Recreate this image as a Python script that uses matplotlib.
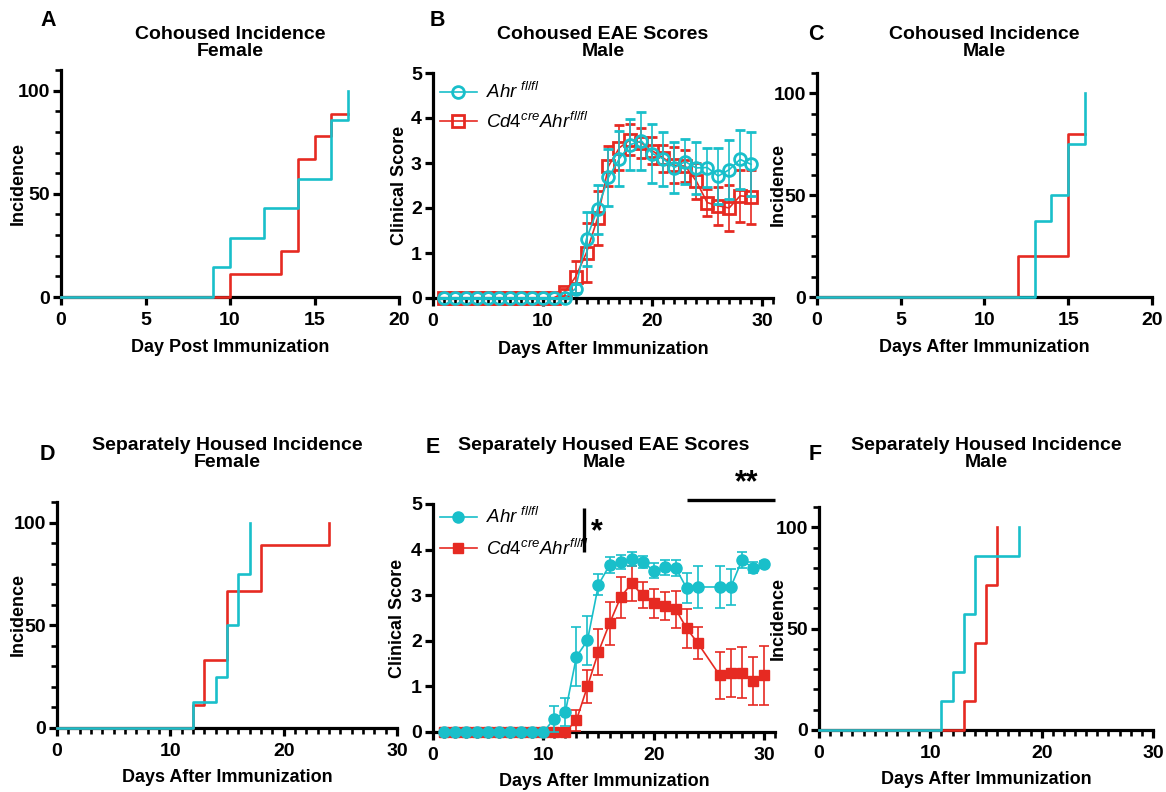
import matplotlib
matplotlib.use("Agg")
import matplotlib.pyplot as plt
from matplotlib.lines import Line2D
from matplotlib.ticker import MultipleLocator, NullLocator

plt.rcParams['font.family'] = ['Liberation Sans', 'DejaVu Sans']
plt.rcParams['font.weight'] = 'bold'
plt.rcParams['mathtext.fontset'] = 'custom'
plt.rcParams['mathtext.it'] = 'Liberation Sans:italic:normal'
plt.rcParams['mathtext.rm'] = 'Liberation Sans:normal'
plt.rcParams['mathtext.bf'] = 'Liberation Sans:bold'

CYAN = '#19BFCA'
RED = '#E62A22'

# ---- Incidence curves (day of onset, cumulative incidence %) ----
coh_f_wt_days = [0, 9, 10, 12, 14, 16, 17]
coh_f_wt_inc = [0, 14.3, 28.6, 42.9, 57.1, 85.7, 100]
coh_f_ko_days = [0, 10, 13, 14, 15, 16, 17]
coh_f_ko_inc = [0, 11.1, 22.2, 66.7, 77.8, 88.9, 88.9]

coh_m_wt_days = [0, 13, 14, 15, 16]
coh_m_wt_inc = [0, 37.5, 50, 75, 100]
coh_m_ko_days = [0, 12, 15, 16]
coh_m_ko_inc = [0, 20, 80, 80]

sep_f_wt_days = [0, 12, 14, 15, 16, 17]
sep_f_wt_inc = [0, 12.5, 25, 50, 75, 100]
sep_f_ko_days = [0, 12, 13, 15, 18, 24]
sep_f_ko_inc = [0, 11.1, 33.3, 66.7, 88.9, 100]

sep_m_wt_days = [0, 11, 12, 13, 14, 18]
sep_m_wt_inc = [0, 14.3, 28.6, 57.1, 85.7, 100]
sep_m_ko_days = [0, 13, 14, 15, 16]
sep_m_ko_inc = [0, 14.3, 42.9, 71.4, 100]

# ---- Cohoused EAE scores, male (mean, SEM) ----
coh_days = list(range(1, 30))
coh_wt_mean = [0]*12 + [0.21, 1.32, 1.97, 2.68, 3.10, 3.41, 3.49, 3.21, 3.09, 2.90,
                        3.03, 2.89, 2.90, 2.71, 2.85, 3.08, 2.97]
coh_wt_sem = [0]*12 + [0.10, 0.60, 0.55, 0.63, 0.62, 0.56, 0.64, 0.66, 0.60, 0.57,
                       0.50, 0.58, 0.43, 0.62, 0.66, 0.65, 0.71]
coh_ko_mean = [0]*11 + [0.13, 0.47, 1.01, 1.77, 2.93, 3.34, 3.52, 3.45, 3.27, 3.11,
                        2.95, 2.93, 2.60, 2.12, 2.05, 2.00, 2.27, 2.25]
coh_ko_sem = [0]*11 + [0.08, 0.35, 0.65, 0.60, 0.45, 0.50, 0.35, 0.33, 0.30, 0.30,
                       0.40, 0.35, 0.40, 0.30, 0.42, 0.52, 0.57, 0.60]

# ---- Separately housed EAE scores, male (mean, SEM); no scoring on day 25 ----
sep_days = list(range(1, 25)) + list(range(26, 31))
sep_wt_mean = [0]*10 + [0.29, 0.44, 1.65, 2.01, 3.23, 3.66, 3.73, 3.79, 3.73, 3.54,
                        3.61, 3.60, 3.15, 3.18, 3.18, 3.18, 3.77, 3.60, 3.68]
sep_wt_sem = [0]*10 + [0.28, 0.30, 0.65, 0.54, 0.23, 0.17, 0.15, 0.16, 0.14, 0.17,
                       0.17, 0.18, 0.33, 0.46, 0.46, 0.40, 0.17, 0.12, 0.08]
sep_ko_mean = [0]*12 + [0.26, 1.00, 1.76, 2.38, 2.95, 3.26, 3.00, 2.82, 2.76, 2.69,
                        2.27, 1.95, 1.24, 1.30, 1.30, 1.12, 1.24]
sep_ko_sem = [0]*12 + [0.23, 0.37, 0.50, 0.47, 0.44, 0.38, 0.28, 0.32, 0.31, 0.40,
                       0.42, 0.35, 0.51, 0.53, 0.56, 0.52, 0.64]

LBL_WT = r'$\mathit{Ahr}^{\ \mathit{fl/fl}}$'
LBL_KO = r'$\mathit{Cd4}^{\mathit{cre}}\mathit{Ahr}^{\mathit{fl/fl}}$'

W, H = 1166, 792
fig = plt.figure(figsize=(W/100, H/100), dpi=100)


def px_axes(left, right, top, bottom):
    ax = fig.add_axes([left/W, 1 - bottom/H, (right-left)/W, (bottom-top)/H])
    ax._px = (left, right, top, bottom)
    return ax


def place_labels(ax, ylabel_x, xlabel_y, title, title_y):
    left, right, top, bottom = ax._px
    ax.yaxis.set_label_coords((ylabel_x - left)/(right - left), 0.5)
    ax.xaxis.set_label_coords(0.5, -(xlabel_y - bottom)/(bottom - top))
    fig.text((left + right)/2/W, 1 - title_y/H, title, fontsize=14, fontweight='bold',
             ha='center', va='center', linespacing=0.98)


def style(ax, xmax, xmajor, xminor, ymax, ymajor, yminor):
    for s in ('top', 'right'):
        ax.spines[s].set_visible(False)
    for s in ('left', 'bottom'):
        ax.spines[s].set_linewidth(2.3)
        ax.spines[s].set_capstyle('projecting')
    ax.set_xlim(0, xmax)
    ax.set_ylim(0, ymax)
    ax.xaxis.set_major_locator(MultipleLocator(xmajor))
    ax.yaxis.set_major_locator(MultipleLocator(ymajor))
    ax.xaxis.set_minor_locator(MultipleLocator(xminor) if xminor else NullLocator())
    ax.yaxis.set_minor_locator(MultipleLocator(yminor) if yminor else NullLocator())
    ax.tick_params(which='major', length=6, width=2.3, labelsize=14)
    ax.tick_params(axis='x', which='major', pad=5)
    ax.tick_params(axis='y', which='major', pad=2)
    ax.tick_params(which='minor', length=4, width=1.9)
    for t in ax.get_xticklabels() + ax.get_yticklabels():
        t.set_fontweight('bold')


def incidence(ax, wt_d, wt_i, ko_d, ko_i, xmax, xmajor, xminor, xlabel):
    ax.step(ko_d, ko_i, where='post', color=RED, lw=1.9, clip_on=False, zorder=3)
    ax.step(wt_d, wt_i, where='post', color=CYAN, lw=1.9, clip_on=False, zorder=4)
    style(ax, xmax, xmajor, xminor, 110, 50, 10)
    ax.set_ylabel('Incidence', fontsize=13, fontweight='bold', va='center')
    ax.set_xlabel(xlabel, fontsize=13, fontweight='bold', va='center')


def scores(ax, d, wt_m, wt_s, ko_m, ko_s, filled, legend_y, spacing):
    common = dict(elinewidth=1.2, capsize=3.6, capthick=1.2, lw=1.2, clip_on=False)
    if filled:
        ko_style = dict(marker='s', ms=7.5, mec=RED, mfc=RED)
        wt_style = dict(marker='o', ms=8, mec=CYAN, mfc=CYAN)
    else:
        ko_style = dict(marker='s', ms=8, mew=2.0, mec=RED, mfc='none')
        wt_style = dict(marker='o', ms=8.5, mew=2.0, mec=CYAN, mfc='none')
    ax.errorbar(d, ko_m, yerr=ko_s, color=RED, zorder=3, **ko_style, **common)
    ax.errorbar(d, wt_m, yerr=wt_s, color=CYAN, zorder=4, **wt_style, **common)
    style(ax, 31, 10, 1, 5, 1, None)
    ax.set_ylabel('Clinical Score', fontsize=13, fontweight='bold', va='center')
    ax.set_xlabel('Days After Immunization', fontsize=13, fontweight='bold', va='center')
    handles = [Line2D([], [], color=CYAN, lw=1.2, **wt_style),
               Line2D([], [], color=RED, lw=1.2, **ko_style)]
    ax.legend(handles, [LBL_WT, LBL_KO], loc='upper left',
              bbox_to_anchor=(-0.03, legend_y), frameon=False, fontsize=13.5,
              handlelength=2.0, handletextpad=0.45, labelspacing=spacing)


axA = px_axes(61, 399, 70, 297)
incidence(axA, coh_f_wt_days, coh_f_wt_inc, coh_f_ko_days, coh_f_ko_inc,
          20, 5, None, 'Day Post Immunization')
place_labels(axA, 18, 348, 'Cohoused Incidence\nFemale', 43)

axB = px_axes(433, 773, 73, 298)
scores(axB, coh_days, coh_wt_mean, coh_wt_sem, coh_ko_mean, coh_ko_sem, False,
       1.035, 0.5)
place_labels(axB, 400, 349, 'Cohoused EAE Scores\nMale', 43)

axC = px_axes(817, 1152, 73, 297)
incidence(axC, coh_m_wt_days, coh_m_wt_inc, coh_m_ko_days, coh_m_ko_inc,
          20, 5, None, 'Days After Immunization')
place_labels(axC, 778, 348, 'Cohoused Incidence\nMale', 43)

axD = px_axes(57, 397, 502, 728)
incidence(axD, sep_f_wt_days, sep_f_wt_inc, sep_f_ko_days, sep_f_ko_inc,
          30, 10, 1, 'Days After Immunization')
place_labels(axD, 18, 777, 'Separately Housed Incidence\nFemale', 454)

axE = px_axes(433, 775, 504, 732)
scores(axE, sep_days, sep_wt_mean, sep_wt_sem, sep_ko_mean, sep_ko_sem, True,
       1.06, 0.62)
place_labels(axE, 398, 781, 'Separately Housed EAE Scores\nMale', 454)
# significance marks
axE.plot([13.7, 13.7], [3.95, 4.92], color='black', lw=2.4, clip_on=False,
         solid_capstyle='butt')
axE.text(14.3, 4.38, '*', fontsize=22, fontweight='bold', ha='left', va='center')
axE.plot([23, 31], [5.08, 5.08], color='black', lw=2.4, clip_on=False,
         solid_capstyle='butt')
axE.text(28.4, 5.12, '**', fontsize=22, fontweight='bold', ha='center', va='bottom')

axF = px_axes(819, 1153, 507, 730)
incidence(axF, sep_m_wt_days, sep_m_wt_inc, sep_m_ko_days, sep_m_ko_inc,
          30, 10, 1, 'Days After Immunization')
place_labels(axF, 778, 779, 'Separately Housed Incidence\nMale', 454)

# panel letters
for letter, x, y in [('A', 48, 20), ('B', 437, 20), ('C', 816, 34),
                     ('D', 47, 455), ('E', 433, 447), ('F', 815, 455)]:
    fig.text(x/W, 1 - y/H, letter, fontsize=15.5, fontweight='bold',
             ha='center', va='center')

fig.savefig('out.png', dpi=100)
